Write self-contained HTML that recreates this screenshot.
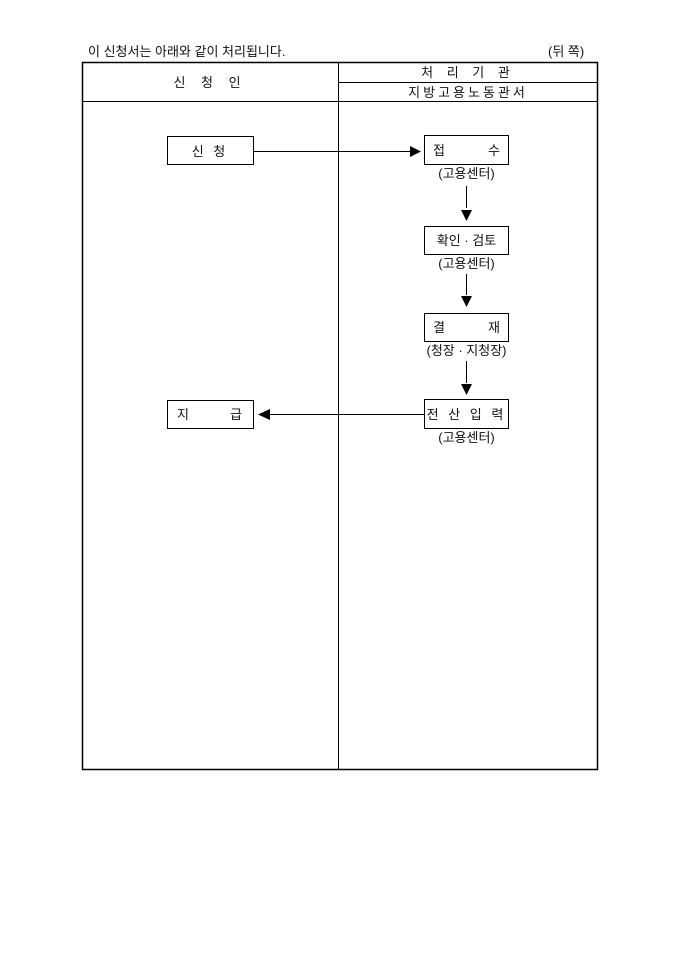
<!DOCTYPE html>
<html><head><meta charset="utf-8"><style>
html,body{margin:0;padding:0;background:#fff;}
svg{display:block}
text{font-family:"Liberation Sans","Noto Sans CJK KR","NanumGothic",sans-serif;font-size:13px;fill:#111}
</style></head><body>
<svg width="680" height="962" viewBox="0 0 680 962">
<text x="88" y="56" font-size="13">이 신청서는 아래와 같이 처리됩니다.</text>
<text x="548" y="56">(뒤 쪽)</text>
<g stroke="#000" fill="none">
<rect x="82.5" y="62.5" width="515" height="707" stroke-width="1.5"/>
<line x1="338.5" y1="62" x2="338.5" y2="770"/>
<line x1="338" y1="82.5" x2="598" y2="82.5"/>
<line x1="82" y1="101.5" x2="598" y2="101.5"/>
<rect x="167.5" y="136.5" width="86" height="28"/>
<rect x="424.5" y="135.5" width="84" height="29"/>
<rect x="424.5" y="226.5" width="84" height="28"/>
<rect x="424.5" y="313.5" width="84" height="28"/>
<rect x="424.5" y="399.5" width="84" height="29"/>
<rect x="167.5" y="400.5" width="86" height="28"/>
<line x1="254" y1="151.5" x2="410" y2="151.5"/>
<line x1="270" y1="414.5" x2="424" y2="414.5"/>
<line x1="466.5" y1="186" x2="466.5" y2="208"/>
<line x1="466.5" y1="274" x2="466.5" y2="295"/>
<line x1="466.5" y1="361" x2="466.5" y2="383"/>
</g>
<g fill="#000">
<polygon points="410,146 421,151.5 410,157"/>
<polygon points="270,409 258,414.5 270,420"/>
<polygon points="461,210 472,210 466.5,221"/>
<polygon points="461,296 472,296 466.5,307"/>
<polygon points="461,384 472,384 466.5,395"/>
</g>
<text x="210" y="87" text-anchor="middle" letter-spacing="6">신 청 인</text>
<text x="468" y="77" text-anchor="middle" letter-spacing="5">처 리 기 관</text>
<text x="468" y="97" text-anchor="middle" letter-spacing="3">지방고용노동관서</text>
<text x="210" y="156" text-anchor="middle" letter-spacing="3">신 청</text>
<text x="433" y="155">접</text><text x="488" y="155">수</text>
<text x="466.5" y="178" text-anchor="middle">(고용센터)</text>
<text x="466.5" y="245" text-anchor="middle">확인 · 검토</text>
<text x="466.5" y="268" text-anchor="middle">(고용센터)</text>
<text x="433" y="332">결</text><text x="488" y="332">재</text>
<text x="466.5" y="355" text-anchor="middle">(청장 · 지청장)</text>
<text x="466.5" y="419" text-anchor="middle" letter-spacing="3">전 산 입 력</text>
<text x="466.5" y="442" text-anchor="middle">(고용센터)</text>
<text x="177" y="419">지</text><text x="230" y="419">급</text>
</svg>
</body></html>
